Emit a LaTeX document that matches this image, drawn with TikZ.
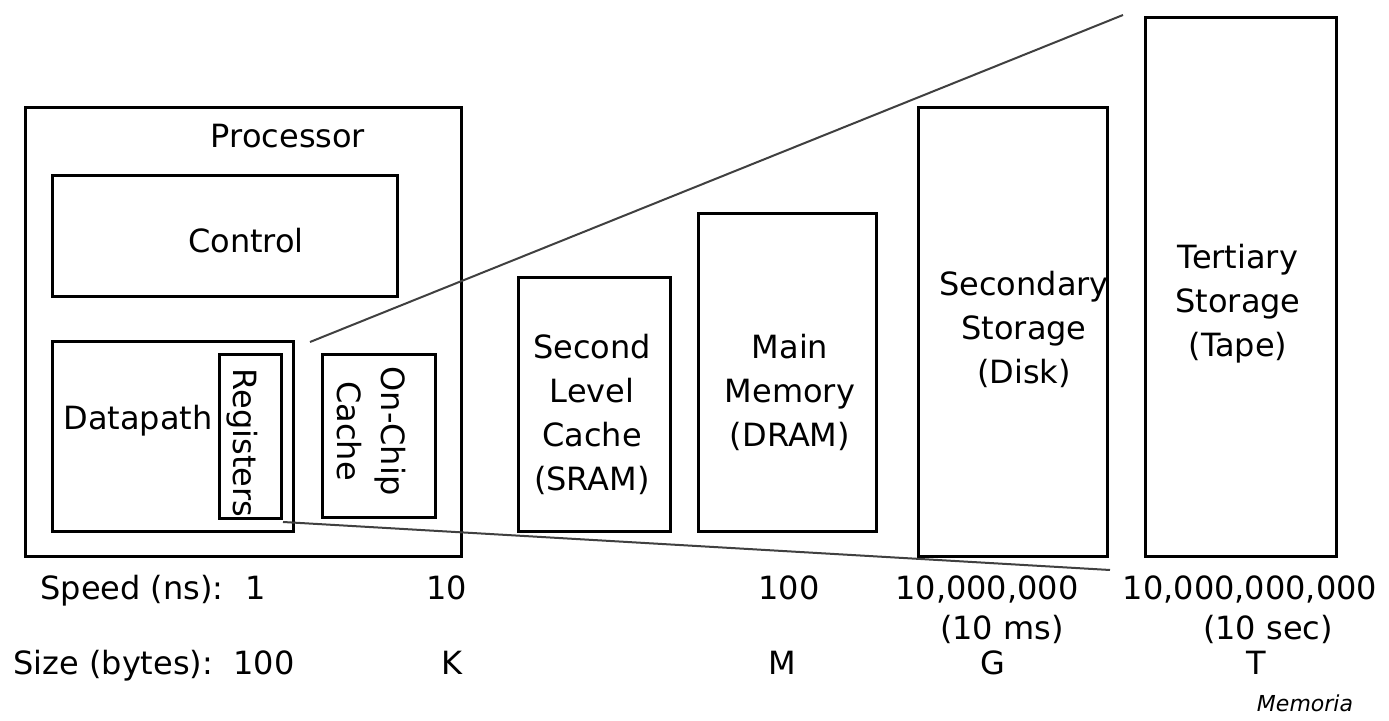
\documentclass[tikz,border=0pt]{standalone}
\usepackage{fontspec}
\setmainfont{DejaVu Sans}
\usetikzlibrary{fit}
\begin{document}
\begin{tikzpicture}[x=0.5pt,y=-0.5pt,
  box/.style={draw, line width=1.5pt, inner sep=0pt},
  lbl/.style={inner sep=0pt, font=\fontsize{16pt}{22pt}\selectfont},
  stack/.style={lbl, align=center, anchor=north},
  zoomline/.style={line width=1pt, black!75}]
  % canvas
  \fill[white] (0,0) rectangle (1389,721);
  \useasboundingbox (0,0) rectangle (1389,721);

  % processor and its parts
  \node[box, fit={(25,108) (461,557)}] (proc) {};
  \node[lbl, anchor=base] (proclbl) at (288,148) {Processor};
  \node[box, fit={(52,176) (397,297)}] (ctrl) {};
  \node[lbl, anchor=base] (ctrllbl) at (246,253) {Control};
  \node[box, fit={(52,342) (293,532)}] (dpath) {};
  \node[lbl, anchor=base west] (dpathlbl) at (63,430) {Datapath};
  \node[box, fit={(219,355) (281,519)}] (regs) {};
  \node[lbl, rotate=-90] (regslbl) at (242,443) {Registers};
  \node[box, fit={(322,355) (435,518)}] (l1) {};
  \node[lbl, align=center, rotate=-90] (l1lbl) at (371,431) {On-Chip\\Cache};

  % memory levels
  \node[box, fit={(518,278) (670,532)}] (l2) {};
  \node[stack] (l2lbl) at (592,334) {Second\\Level\\Cache\\(SRAM)};
  \node[box, fit={(698,214) (876,532)}] (dram) {};
  \node[stack] (dramlbl) at (790,334) {Main\\Memory\\(DRAM)};
  \node[box, fit={(918,108) (1107,557)}] (disk) {};
  \node[stack] (disklbl) at (1024,271) {Secondary\\Storage\\(Disk)};
  \node[box, fit={(1145,18) (1336,557)}] (tape) {};
  \node[stack] (tapelbl) at (1238,244) {Tertiary\\Storage\\(Tape)};

  % zoom lines from the registers
  \coordinate (zA) at (310,342);
  \coordinate (zB) at (1123,15);
  \coordinate (zC) at (283,522);
  \coordinate (zD) at (1110,570);
  \draw[zoomline] (zA) -- (zB);
  \draw[zoomline] (zC) -- (zD);

  % speed row
  \node[lbl, anchor=base west] (speed) at (40,600) {Speed (ns):};
  \node[lbl, anchor=base] (s1) at (256,600) {1};
  \node[lbl, anchor=base] (s2) at (447,600) {10};
  \node[lbl, anchor=base] (s3) at (789,600) {100};
  \node[lbl, anchor=base] (s4) at (987,600) {10,000,000};
  \node[lbl, anchor=base] (s5) at (1250,600) {10,000,000,000};
  \node[lbl, anchor=base] (s4b) at (1002,640) {(10 ms)};
  \node[lbl, anchor=base] (s5b) at (1268,640) {(10 sec)};

  % size row
  \node[lbl, anchor=base west] (size) at (13,675) {Size (bytes):};
  \node[lbl, anchor=base west] (z1) at (233,675) {100};
  \node[lbl, anchor=base] (z2) at (452,675) {K};
  \node[lbl, anchor=base] (z3) at (782,675) {M};
  \node[lbl, anchor=base] (z4) at (993,675) {G};
  \node[lbl, anchor=base] (z5) at (1256,675) {T};
  \node[inner sep=0pt, anchor=base, font=\fontsize{11pt}{13pt}\selectfont\itshape] (mem) at (1305,712) {Memoria};
\end{tikzpicture}
\end{document}
